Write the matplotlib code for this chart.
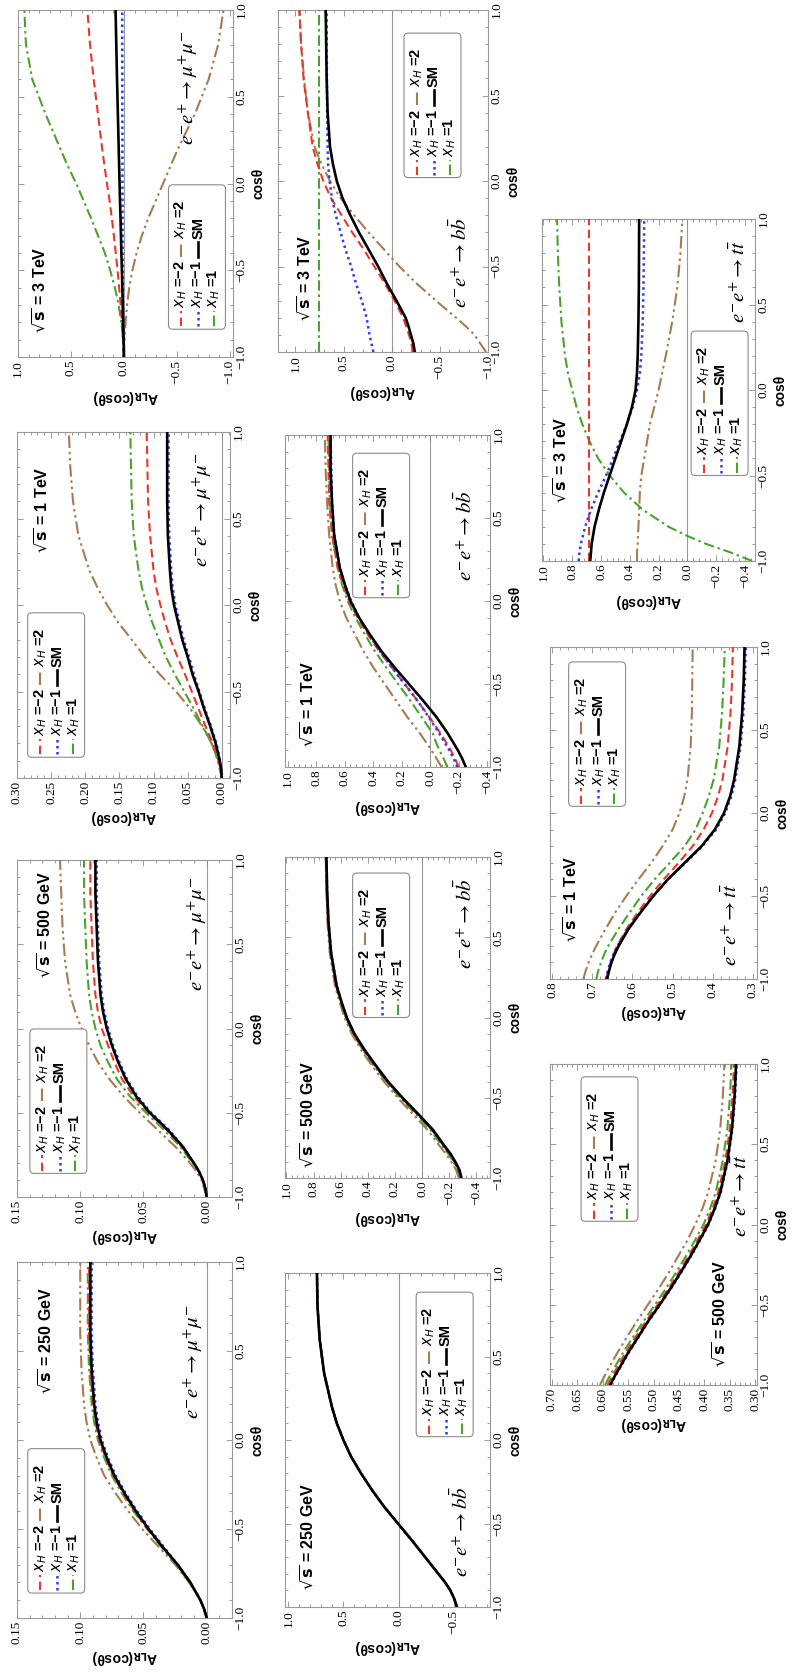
import matplotlib.pyplot as plt
from matplotlib.patches import FancyBboxPatch
from matplotlib.ticker import AutoMinorLocator, FixedLocator, FuncFormatter
from matplotlib.transforms import Affine2D, ScaledTranslation

plt.rcParams["font.family"] = ["Liberation Serif", "DejaVu Serif"]
plt.rcParams["axes.unicode_minus"] = True

# cos(theta) sample points shared by every curve
COS_THETA = [-1.0, -0.95, -0.9, -0.85, -0.8, -0.7, -0.6, -0.5, -0.4, -0.3,
             -0.2, -0.1, 0.0, 0.1, 0.2, 0.4, 0.6, 0.8, 1.0]

# A_LR(cos theta); keys: m2 = x_H=-2, m1 = x_H=-1, p1 = x_H=1, p2 = x_H=2, sm = SM
MM_3TEV = {
    "m2": [0.0, 0.004, 0.009, 0.014, 0.019, 0.031, 0.045, 0.060, 0.077, 0.095,
           0.114, 0.135, 0.160, 0.183, 0.205, 0.245, 0.285, 0.320, 0.345],
    "m1": [0.0, 0.002, 0.004, 0.006, 0.007, 0.009, 0.010, 0.011, 0.012, 0.012,
           0.013, 0.013, 0.014, 0.014, 0.014, 0.015, 0.015, 0.016, 0.016],
    "p1": [0.0, 0.004, 0.009, 0.016, 0.025, 0.050, 0.085, 0.130, 0.180, 0.245,
           0.310, 0.380, 0.450, 0.530, 0.600, 0.740, 0.865, 0.925, 0.940],
    "p2": [0.0, -0.002, -0.006, -0.010, -0.016, -0.030, -0.050, -0.080, -0.120, -0.170,
           -0.230, -0.300, -0.370, -0.440, -0.510, -0.670, -0.800, -0.890, -0.940],
    "sm": [0.0, 0.001, 0.003, 0.005, 0.007, 0.011, 0.015, 0.019, 0.024, 0.028,
           0.032, 0.037, 0.041, 0.045, 0.049, 0.057, 0.065, 0.072, 0.079],
}
MM_1TEV = {
    "m2": [0.0, 0.002, 0.005, 0.009, 0.013, 0.024, 0.034, 0.044, 0.054, 0.065,
           0.075, 0.083, 0.090, 0.096, 0.100, 0.105, 0.108, 0.109, 0.110],
    "m1": [0.0, 0.001, 0.003, 0.005, 0.008, 0.016, 0.025, 0.033, 0.041, 0.048,
           0.056, 0.062, 0.068, 0.072, 0.074, 0.077, 0.078, 0.078, 0.078],
    "p1": [0.0, 0.003, 0.006, 0.010, 0.015, 0.028, 0.041, 0.055, 0.069, 0.082,
           0.092, 0.102, 0.110, 0.117, 0.122, 0.129, 0.132, 0.133, 0.134],
    "p2": [0.0, 0.002, 0.005, 0.010, 0.015, 0.029, 0.046, 0.067, 0.091, 0.113,
           0.132, 0.152, 0.168, 0.182, 0.194, 0.210, 0.218, 0.222, 0.224],
    "sm": [0.0, 0.001, 0.003, 0.006, 0.009, 0.017, 0.026, 0.034, 0.043, 0.050,
           0.058, 0.064, 0.070, 0.074, 0.076, 0.079, 0.080, 0.080, 0.080],
}
MM_500GEV = {
    "m2": [0.0, 0.001, 0.003, 0.006, 0.010, 0.020, 0.032, 0.046, 0.058, 0.067,
           0.073, 0.078, 0.083, 0.086, 0.088, 0.090, 0.091, 0.092, 0.092],
    "m1": [0.0, 0.001, 0.003, 0.006, 0.010, 0.019, 0.030, 0.044, 0.055, 0.063,
           0.069, 0.074, 0.078, 0.081, 0.083, 0.085, 0.086, 0.087, 0.087],
    "p1": [0.0, 0.001, 0.003, 0.006, 0.011, 0.021, 0.034, 0.048, 0.061, 0.071,
           0.078, 0.084, 0.088, 0.091, 0.093, 0.095, 0.096, 0.097, 0.097],
    "p2": [0.0, 0.002, 0.004, 0.008, 0.013, 0.025, 0.039, 0.053, 0.066, 0.077,
           0.086, 0.093, 0.099, 0.104, 0.108, 0.112, 0.114, 0.115, 0.116],
    "sm": [0.0, 0.001, 0.003, 0.006, 0.010, 0.019, 0.031, 0.045, 0.056, 0.064,
           0.070, 0.075, 0.079, 0.082, 0.084, 0.086, 0.087, 0.088, 0.088],
}
MM_250GEV = {
    "m2": [0.0, 0.002, 0.005, 0.009, 0.013, 0.023, 0.035, 0.047, 0.057, 0.066,
           0.074, 0.080, 0.085, 0.088, 0.090, 0.092, 0.093, 0.093, 0.093],
    "m1": [0.0, 0.002, 0.005, 0.009, 0.013, 0.023, 0.034, 0.045, 0.055, 0.064,
           0.072, 0.078, 0.083, 0.086, 0.088, 0.090, 0.091, 0.091, 0.091],
    "p1": [0.0, 0.002, 0.005, 0.009, 0.014, 0.024, 0.036, 0.047, 0.058, 0.067,
           0.075, 0.081, 0.086, 0.089, 0.091, 0.093, 0.094, 0.094, 0.094],
    "p2": [0.0, 0.002, 0.005, 0.009, 0.014, 0.025, 0.038, 0.051, 0.062, 0.072,
           0.081, 0.087, 0.092, 0.095, 0.097, 0.099, 0.100, 0.100, 0.100],
    "sm": [0.0, 0.002, 0.005, 0.009, 0.013, 0.023, 0.035, 0.046, 0.056, 0.065,
           0.073, 0.079, 0.084, 0.087, 0.089, 0.091, 0.092, 0.092, 0.092],
}
BB_3TEV = {
    "m2": [-0.22, -0.205, -0.18, -0.15, -0.12, -0.03, 0.07, 0.18, 0.29, 0.41,
           0.52, 0.63, 0.71, 0.77, 0.82, 0.87, 0.915, 0.94, 0.96],
    "m1": [0.19, 0.21, 0.23, 0.245, 0.26, 0.31, 0.37, 0.42, 0.48, 0.53,
           0.58, 0.62, 0.645, 0.66, 0.665, 0.67, 0.672, 0.674, 0.675],
    "p1": [0.75, 0.75, 0.75, 0.75, 0.75, 0.75, 0.75, 0.75, 0.75, 0.75,
           0.75, 0.75, 0.75, 0.75, 0.75, 0.75, 0.75, 0.75, 0.75],
    "p2": [-0.98, -0.92, -0.86, -0.77, -0.67, -0.46, -0.26, -0.08, 0.08, 0.24,
           0.39, 0.53, 0.64, 0.73, 0.80, 0.87, 0.91, 0.94, 0.955],
    "sm": [-0.24, -0.225, -0.20, -0.175, -0.145, -0.05, 0.05, 0.14, 0.24, 0.34,
           0.43, 0.51, 0.57, 0.61, 0.64, 0.665, 0.675, 0.68, 0.685],
}
BB_1TEV = {
    "m2": [-0.20, -0.175, -0.145, -0.11, -0.075, 0.005, 0.09, 0.18, 0.27, 0.36,
           0.44, 0.51, 0.57, 0.615, 0.65, 0.69, 0.71, 0.715, 0.72],
    "m1": [-0.19, -0.165, -0.135, -0.10, -0.065, 0.01, 0.09, 0.18, 0.27, 0.355,
           0.43, 0.50, 0.555, 0.60, 0.635, 0.675, 0.69, 0.695, 0.70],
    "p1": [-0.12, -0.095, -0.065, -0.04, -0.02, 0.06, 0.14, 0.225, 0.31, 0.39,
           0.46, 0.525, 0.58, 0.62, 0.65, 0.69, 0.705, 0.71, 0.715],
    "p2": [-0.08, -0.045, -0.01, 0.03, 0.07, 0.16, 0.24, 0.32, 0.40, 0.47,
           0.53, 0.59, 0.635, 0.665, 0.685, 0.71, 0.725, 0.735, 0.74],
    "sm": [-0.25, -0.225, -0.195, -0.16, -0.125, -0.045, 0.05, 0.15, 0.25, 0.345,
           0.425, 0.50, 0.56, 0.60, 0.635, 0.675, 0.69, 0.70, 0.70],
}
BB_500GEV = {
    "m2": [-0.285, -0.268, -0.238, -0.203, -0.158, -0.072, 0.037, 0.152, 0.257, 0.347,
           0.432, 0.506, 0.56, 0.60, 0.635, 0.674, 0.694, 0.703, 0.708],
    "m1": [-0.285, -0.27, -0.24, -0.205, -0.16, -0.075, 0.035, 0.15, 0.255, 0.345,
           0.43, 0.50, 0.555, 0.595, 0.63, 0.67, 0.69, 0.70, 0.705],
    "p1": [-0.28, -0.262, -0.23, -0.193, -0.147, -0.06, 0.05, 0.163, 0.267, 0.356,
           0.438, 0.51, 0.563, 0.602, 0.636, 0.675, 0.694, 0.703, 0.708],
    "p2": [-0.27, -0.25, -0.215, -0.175, -0.128, -0.04, 0.07, 0.18, 0.28, 0.37,
           0.45, 0.52, 0.572, 0.61, 0.642, 0.68, 0.698, 0.706, 0.71],
    "sm": [-0.29, -0.275, -0.245, -0.21, -0.165, -0.08, 0.03, 0.145, 0.25, 0.34,
           0.425, 0.50, 0.555, 0.595, 0.63, 0.67, 0.69, 0.70, 0.705],
}
# at 250 GeV all five b-bbar curves sit on top of each other
BB_250_CURVE = [-0.53, -0.505, -0.47, -0.42, -0.36, -0.24, -0.12, 0.005, 0.13, 0.24,
                0.34, 0.43, 0.50, 0.56, 0.605, 0.675, 0.715, 0.735, 0.74]
BB_250GEV = {k: BB_250_CURVE for k in ("m2", "m1", "p1", "p2", "sm")}
TT_3TEV = {
    "m2": [0.68, 0.68, 0.68, 0.68, 0.68, 0.68, 0.68, 0.68, 0.68, 0.68,
           0.68, 0.68, 0.68, 0.68, 0.68, 0.68, 0.68, 0.68, 0.68],
    "m1": [0.755, 0.75, 0.74, 0.725, 0.71, 0.67, 0.62, 0.565, 0.515, 0.47,
           0.42, 0.38, 0.35, 0.33, 0.32, 0.31, 0.305, 0.302, 0.30],
    "p1": [-0.45, -0.30, -0.13, 0.01, 0.13, 0.31, 0.44, 0.54, 0.62, 0.68,
           0.73, 0.77, 0.80, 0.83, 0.85, 0.875, 0.89, 0.90, 0.905],
    "p2": [0.35, 0.35, 0.345, 0.343, 0.34, 0.335, 0.33, 0.32, 0.30, 0.28,
           0.26, 0.23, 0.20, 0.175, 0.15, 0.105, 0.07, 0.048, 0.035],
    "sm": [0.675, 0.67, 0.665, 0.655, 0.645, 0.615, 0.58, 0.54, 0.50, 0.46,
           0.42, 0.385, 0.36, 0.35, 0.345, 0.34, 0.337, 0.336, 0.335],
}
TT_1TEV = {
    "m2": [0.665, 0.66, 0.654, 0.647, 0.638, 0.615, 0.587, 0.556, 0.522, 0.485,
           0.45, 0.423, 0.402, 0.387, 0.376, 0.363, 0.356, 0.352, 0.35],
    "m1": [0.666, 0.661, 0.655, 0.647, 0.637, 0.612, 0.581, 0.548, 0.511, 0.468,
           0.426, 0.392, 0.369, 0.354, 0.344, 0.331, 0.324, 0.32, 0.318],
    "p1": [0.69, 0.685, 0.678, 0.67, 0.66, 0.635, 0.607, 0.578, 0.545, 0.507,
           0.47, 0.443, 0.425, 0.41, 0.398, 0.384, 0.377, 0.373, 0.37],
    "p2": [0.722, 0.716, 0.709, 0.70, 0.69, 0.667, 0.643, 0.615, 0.585, 0.553,
           0.525, 0.50, 0.483, 0.471, 0.463, 0.455, 0.452, 0.451, 0.45],
    "sm": [0.663, 0.658, 0.652, 0.644, 0.634, 0.61, 0.58, 0.548, 0.512, 0.47,
           0.428, 0.395, 0.372, 0.357, 0.347, 0.334, 0.327, 0.323, 0.321],
}
TT_500GEV = {
    "m2": [0.59, 0.582, 0.573, 0.564, 0.555, 0.535, 0.514, 0.492, 0.471, 0.451,
           0.432, 0.414, 0.397, 0.384, 0.373, 0.359, 0.35, 0.345, 0.342],
    "m1": [0.584, 0.576, 0.567, 0.558, 0.549, 0.529, 0.509, 0.487, 0.466, 0.446,
           0.427, 0.409, 0.392, 0.379, 0.368, 0.354, 0.345, 0.34, 0.337],
    "p1": [0.595, 0.587, 0.578, 0.569, 0.56, 0.54, 0.519, 0.497, 0.476, 0.456,
           0.437, 0.419, 0.402, 0.389, 0.378, 0.364, 0.355, 0.35, 0.347],
    "p2": [0.605, 0.597, 0.589, 0.58, 0.571, 0.552, 0.532, 0.511, 0.49, 0.47,
           0.452, 0.434, 0.418, 0.404, 0.393, 0.378, 0.369, 0.364, 0.361],
    "sm": [0.585, 0.577, 0.568, 0.559, 0.55, 0.53, 0.51, 0.488, 0.467, 0.447,
           0.428, 0.41, 0.393, 0.38, 0.369, 0.355, 0.346, 0.341, 0.338],
}

STYLES = {
    "p2": dict(color="#a67c52", ls=(0, (6, 1.8, 1.2, 1.8, 1.2, 1.8)), lw=1.5),
    "p1": dict(color="#4ca22f", ls=(0, (5, 1.8, 1.2, 1.8)), lw=1.5),
    "m2": dict(color="#e8372c", ls=(0, (4, 2.2)), lw=1.5),
    "m1": dict(color="#2a3cf5", ls=(0, (1, 1.4)), lw=1.8),
    "sm": dict(color="black", ls="-", lw=1.9),
}
ORDER = ["p2", "p1", "m2", "m1", "sm"]

LEGEND_ROWS = [
    [("m2", r"$x_H$ =−2"), ("p2", r"$x_H$ =2")],
    [("m1", r"$x_H$ =−1"), ("sm", "SM")],
    [("p1", r"$x_H$ =1")],
]

MUMU = r"$e^{-}e^{+}\rightarrow\mu^{+}\mu^{-}$"
BBAR = r"$e^{-}e^{+}\rightarrow b\bar{b}$"
TTBAR = r"$e^{-}e^{+}\rightarrow t\bar{t}$"

W, H = 795, 1673
fig = plt.figure(figsize=(W / 100, H / 100), dpi=100)

# the page is the original landscape figure turned a quarter turn:
# cos(theta) runs up the page, A_LR runs right-to-left
PANELS = [
    # data, energy, process, frame px (x0, x1, top, bottom), A range, A ticks, decimals,
    # sqrt(s) label pos, process label pos, legend box pos (axes fractions)
    (MM_3TEV, "3 TeV", MUMU, (18, 233, 10, 357), (1.0, -1.03), [-1, -0.5, 0, 0.5, 1], 1,
     (0.10, 0.07), (0.79, 0.61), (0.70, 0.08)),
    (MM_1TEV, "1 TeV", MUMU, (17, 230, 432, 778), (0.30, -0.012),
     [0, 0.05, 0.10, 0.15, 0.20, 0.25, 0.30], 2,
     (0.117, 0.65), (0.87, 0.61), (0.05, 0.06)),
    (MM_500GEV, "500 GeV", MUMU, (17, 232, 860, 1197), (0.15, -0.02), [0, 0.05, 0.10, 0.15], 2,
     (0.13, 0.65), (0.84, 0.61), (0.06, 0.07)),
    (MM_250GEV, "250 GeV", MUMU, (17, 232, 1262, 1618), (0.15, -0.02), [0, 0.05, 0.10, 0.15], 2,
     (0.135, 0.63), (0.82, 0.56), (0.05, 0.07)),
    (BB_3TEV, "3 TeV", BBAR, (278, 488, 10, 352), (1.18, -1.0), [-1, -0.5, 0, 0.5, 1], 1,
     (0.13, 0.09), (0.87, 0.13), (0.60, 0.51)),
    (BB_1TEV, "1 TeV", BBAR, (285, 490, 435, 767), (1.02, -0.42),
     [-0.4, -0.2, 0, 0.2, 0.4, 0.6, 0.8, 1.0], 1,
     (0.11, 0.06), (0.88, 0.56), (0.33, 0.51)),
    (BB_500GEV, "500 GeV", BBAR, (285, 490, 857, 1178), (1.01, -0.50),
     [-0.4, -0.2, 0, 0.2, 0.4, 0.6, 0.8, 1.0], 1,
     (0.11, 0.03), (0.88, 0.65), (0.33, 0.50)),
    (BB_250GEV, "250 GeV", BBAR, (285, 490, 1273, 1607), (1.03, -0.83), [-0.5, 0, 0.5, 1.0], 1,
     (0.11, 0.05), (0.86, 0.09), (0.64, 0.51)),
    (TT_3TEV, "3 TeV", TTBAR, (542, 755, 219, 561), (1.01, -0.47),
     [-0.4, -0.2, 0, 0.2, 0.4, 0.6, 0.8, 1.0], 1,
     (0.09, 0.17), (0.93, 0.695), (0.70, 0.25)),
    (TT_1TEV, "1 TeV", TTBAR, (550, 757, 647, 979), (0.805, 0.29),
     [0.3, 0.4, 0.5, 0.6, 0.7, 0.8], 1,
     (0.10, 0.11), (0.88, 0.04), (0.09, 0.52)),
    (TT_500GEV, "500 GeV", TTBAR, (550, 757, 1064, 1385), (0.703, 0.297),
     [0.30, 0.35, 0.40, 0.45, 0.50, 0.55, 0.60, 0.65, 0.70], 2,
     (0.82, 0.055), (0.93, 0.46), (0.15, 0.51)),
]


def tick_fmt(dec):
    def f(v, pos):
        s = f"{v:.{dec}f}"
        if s.startswith("-") and float(s) == 0:
            s = s[1:]
        return s.replace("-", "\u2212")
    return FuncFormatter(f)


def draw_legend(ax, x0, y0, bw=41, bh=104):
    # box laid out in points from its lower-left corner
    t = Affine2D().scale(1 / 72) + fig.dpi_scale_trans + ScaledTranslation(x0, y0, ax.transAxes)
    ax.add_patch(FancyBboxPatch((0, 0), bw, bh, boxstyle="round,pad=0,rounding_size=3",
                                transform=t, fc="white", ec="#8c8c8c", lw=0.8,
                                clip_on=False, zorder=6))
    for col, entries in zip((0.22, 0.52, 0.80), LEGEND_ROWS):
        x = col * bw
        for (key, text), (s0, s1, t0) in zip(entries, ((2, 13, 15), (52, 63, 65))):
            st = STYLES[key]
            ax.plot([x, x], [s0, s1], transform=t, color=st["color"], ls=st["ls"],
                    lw=st["lw"], clip_on=False, zorder=7)
            ax.text(x, t0, text, transform=t, rotation=90, rotation_mode="anchor",
                    ha="left", va="center", fontsize=10.5, fontweight="bold",
                    family="Liberation Sans", math_fontfamily="dejavusans", zorder=7)


for (data, energy, proc, (x0, x1, top, bot), alim, aticks, dec,
     spos, ppos, lpos) in PANELS:
    ax = fig.add_axes([x0 / W, 1 - bot / H, (x1 - x0) / W, (bot - top) / H])

    if min(alim) < 0 < max(alim):
        ax.axvline(0, color="#9a9a9a", lw=0.8, zorder=1)
    for key in ORDER:
        st = STYLES[key]
        ax.plot(data[key], COS_THETA, color=st["color"], ls=st["ls"], lw=st["lw"], zorder=3)

    ax.text(spos[0], spos[1], r"$\sqrt{\mathbf{s}}$ = " + energy, transform=ax.transAxes,
            rotation=90, rotation_mode="anchor", ha="left", va="center", fontsize=11.5,
            fontweight="bold", family="Liberation Sans", math_fontfamily="dejavusans", zorder=5)
    ax.text(ppos[0], ppos[1], proc, transform=ax.transAxes, rotation=90,
            rotation_mode="anchor", ha="left", va="center", fontsize=15,
            math_fontfamily="stix", zorder=8)
    draw_legend(ax, *lpos)

    ax.set_xlim(*alim)
    ax.set_ylim(-1, 1)
    ax.xaxis.set_major_locator(FixedLocator(aticks))
    ax.xaxis.set_minor_locator(AutoMinorLocator(5))
    ax.xaxis.set_major_formatter(tick_fmt(dec))
    ax.yaxis.set_major_locator(FixedLocator([-1, -0.5, 0, 0.5, 1]))
    ax.yaxis.set_minor_locator(AutoMinorLocator(5))
    ax.yaxis.set_major_formatter(tick_fmt(1))

    ax.tick_params(which="both", direction="in", top=True, bottom=True, left=True,
                   right=True, labelleft=False, labelright=True, labelbottom=True,
                   colors="#8c8c8c", labelcolor="black", width=0.6)
    ax.tick_params(which="major", length=4, labelsize=9.5, labelrotation=90, pad=2)
    ax.tick_params(which="minor", length=2)
    for lab in ax.get_yticklabels():
        lab.set_va("center")
    for sp in ax.spines.values():
        sp.set_color("#999999")
        sp.set_linewidth(0.8)

    ax.set_xlabel(r"A$_{\mathbf{LR}}$(cosθ)", rotation=180, fontsize=10, fontweight="bold",
                  family="Liberation Sans", math_fontfamily="dejavusans", labelpad=3)
    ax.yaxis.set_label_position("right")
    ax.set_ylabel("cosθ", rotation=90, fontsize=10, fontweight="bold",
                  family="Liberation Sans", labelpad=3)

fig.savefig("out.png", dpi=100)
